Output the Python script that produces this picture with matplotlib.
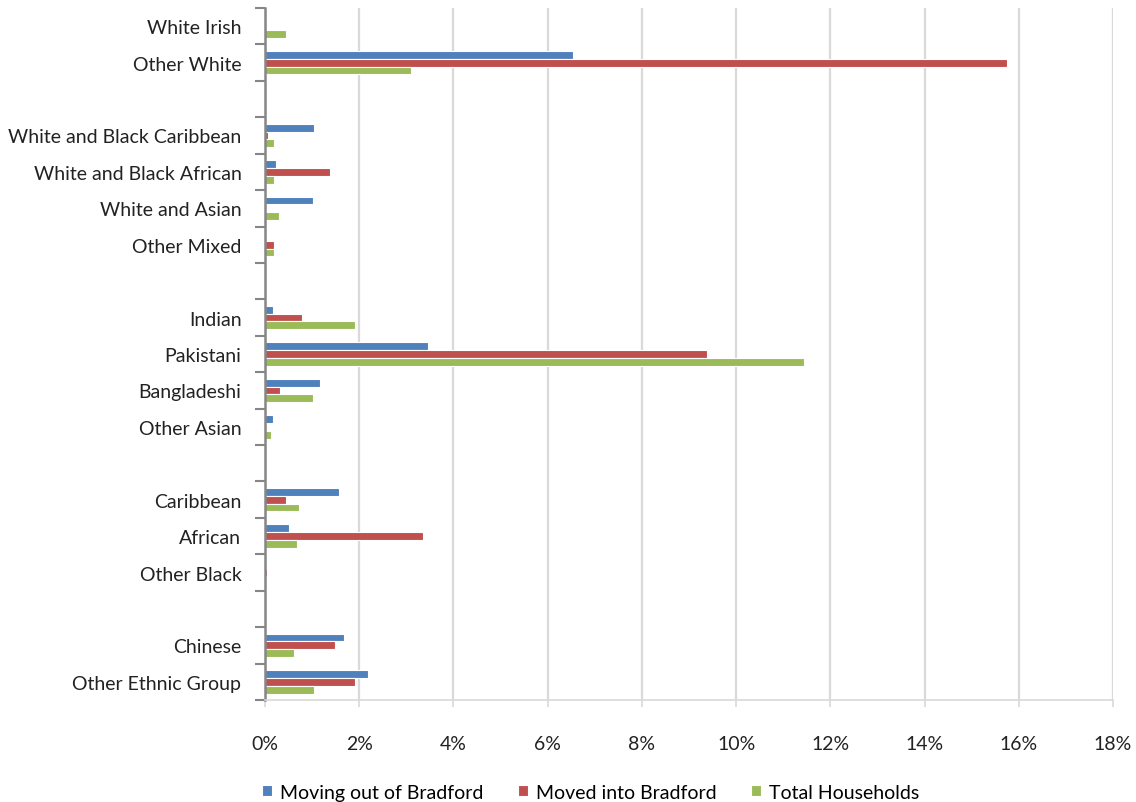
import numpy as np
import matplotlib.pyplot as plt
from matplotlib.ticker import FixedLocator

# categories top to bottom, '' = empty spacer row
categories = ['White Irish', 'Other White', '',
              'White and Black Caribbean', 'White and Black African', 'White and Asian', 'Other Mixed', '',
              'Indian', 'Pakistani', 'Bangladeshi', 'Other Asian', '',
              'Caribbean', 'African', 'Other Black', '',
              'Chinese', 'Other Ethnic Group']

# percentages
moving_out = [0, 6.53, 0, 1.05, 0.24, 1.02, 0, 0, 0.17, 3.46, 1.17, 0.16, 0, 1.58, 0.51, 0, 0, 1.68, 2.19]
moved_in = [0, 15.76, 0, 0.06, 1.37, 0, 0.19, 0, 0.78, 9.38, 0.32, 0, 0, 0.44, 3.36, 0.05, 0, 1.49, 1.91]
total_households = [0.45, 3.10, 0, 0.19, 0.19, 0.29, 0.19, 0, 1.90, 11.44, 1.02, 0.12, 0, 0.73, 0.67, 0, 0, 0.61, 1.03]

series_names = ['Moving out of Bradford', 'Moved into Bradford', 'Total Households']
colors = ['#4F81BD', '#C0504D', '#9BBB59']

plt.rcParams['font.family'] = ['Lato', 'DejaVu Sans']

fig = plt.figure(figsize=(11.36, 8.03), dpi=100)
ax = fig.add_axes([265/1136, 1 - 701/803, (1113 - 265)/1136, (701 - 9)/803])

y = np.arange(len(categories))
h = 0.215
for i, (vals, name) in enumerate(zip([moving_out, moved_in, total_households], series_names)):
	ax.barh(y + (i - 1) * h, vals, height=h, color=colors[i], edgecolor='white',
		linewidth=0.8, label=name, zorder=2)

ax.set_xlim(0, 18)
ax.set_ylim(len(categories) - 0.5, -0.5)
ax.set_xticks(np.arange(0, 19, 2))
ax.set_xticklabels(['%d%%' % v for v in range(0, 19, 2)], fontsize=14, color='#222222')

# labels at row centres, tick marks at row boundaries
ax.set_yticks(y)
ax.set_yticklabels(categories, fontsize=14, color='#222222')
ax.yaxis.set_minor_locator(FixedLocator(np.arange(-0.5, len(categories), 1)))
ax.tick_params(axis='y', which='major', length=0, pad=17)
ax.tick_params(axis='y', which='minor', length=7, width=1.5, color='#868686')
ax.tick_params(axis='x', length=5, width=1.2, color='#d9d9d9', pad=20)

ax.grid(axis='x', color='#d9d9d9', linewidth=1.6, zorder=0)
ax.set_axisbelow(True)

for s in ['top', 'right']:
	ax.spines[s].set_visible(False)
ax.spines['left'].set_color('#868686')
ax.spines['left'].set_linewidth(1.8)
ax.spines['bottom'].set_color('#d9d9d9')
ax.spines['bottom'].set_linewidth(1.2)

fig.legend(loc='lower center', bbox_to_anchor=(0.52, -0.02), ncol=3, frameon=False,
	fontsize=14, handlelength=0.5, handleheight=0.5, handletextpad=0.4, columnspacing=1.8)

plt.savefig('out.png', dpi=100)
